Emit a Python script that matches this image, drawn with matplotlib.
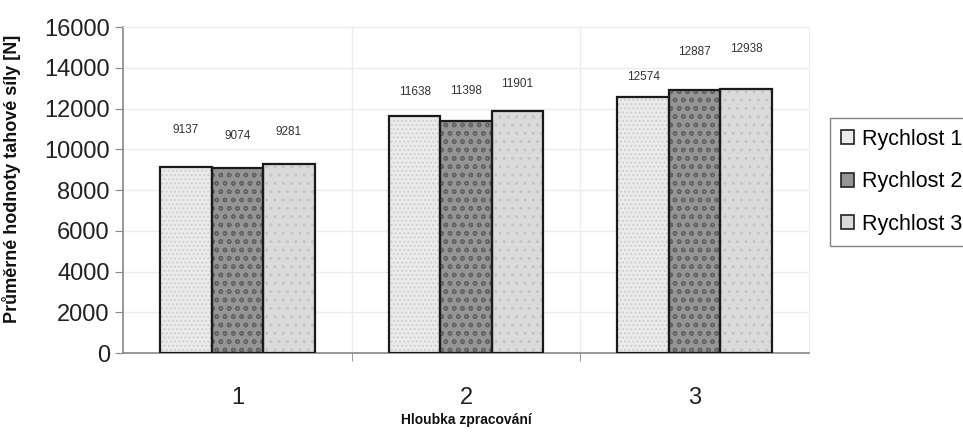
import matplotlib
matplotlib.use("Agg")
import matplotlib.pyplot as plt
from matplotlib.patches import Patch
import numpy as np

plt.rcParams['font.family'] = ['Liberation Sans', 'DejaVu Sans']

# Data
depths = ["1", "2", "3"]
series_names = ["Rychlost 1", "Rychlost 2", "Rychlost 3"]
rychlost_1 = [9137, 11638, 12574]
rychlost_2 = [9074, 11398, 12887]
rychlost_3 = [9281, 11901, 12938]
y_ticks = [0, 2000, 4000, 6000, 8000, 10000, 12000, 14000, 16000]

series = [rychlost_1, rychlost_2, rychlost_3]

# Styling per series: face colour, hatch, hatch colour
faces = ["#ebebeb", "#959595", "#dadada"]
hatches = ["....", "oo", ".."]
hatch_cols = ["#cfcfcf", "#646464", "#c4c4c4"]
# vertical offsets (points) of each value label centre above its bar
label_offsets = [
    [26.5, 23, 23],
    [17.5, 21.5, 19],
    [14.5, 27.5, 29],
]

fig = plt.figure(figsize=(9.63, 4.36), dpi=100)
ax = fig.add_axes([123 / 963, 1 - 353 / 436, (809 - 123) / 963, (353 - 27) / 436])

x = np.arange(len(depths))
width = 0.225
shifts = [-width, 0, width]

for i, vals in enumerate(series):
    xs = x + shifts[i]
    ax.bar(xs, vals, width, color=faces[i], hatch=hatches[i],
           edgecolor=hatch_cols[i], linewidth=0, zorder=2)
    ax.bar(xs, vals, width, facecolor="none", edgecolor="#1a1a1a",
           linewidth=1.6, zorder=3)
    for j, v in enumerate(vals):
        ax.annotate(str(v), (xs[j], v), xytext=(0, label_offsets[j][i]),
                    textcoords="offset points", ha="center", va="center",
                    fontsize=8.5, color="#333333")

ax.set_xlim(-0.5, 2.5)
ax.set_ylim(0, 16000)
ax.set_yticks(y_ticks)
ax.set_yticklabels([str(t) for t in y_ticks], fontsize=17, color="#222222")
ax.set_xticks(x)
ax.set_xticklabels(depths, fontsize=17, color="#222222")
ax.tick_params(axis="x", length=0, pad=24.5)
ax.set_xticks([0.5, 1.5], minor=True)
ax.tick_params(axis="x", which="minor", length=6, color="#888888", direction="out")
ax.tick_params(axis="y", length=5.5, color="#888888", direction="out", pad=4)

ax.grid(axis="y", color="#ececec", linewidth=1, zorder=0)
ax.grid(axis="x", which="minor", color="#ececec", linewidth=1, zorder=0)
ax.set_axisbelow(True)

for s in ["top", "right"]:
    ax.spines[s].set_color("#ececec")
for s in ["left", "bottom"]:
    ax.spines[s].set_color("#888888")
    ax.spines[s].set_linewidth(1.2)

ax.set_ylabel("Průměrné hodnoty tahové síly [N]", fontsize=13,
              fontweight="bold", color="#111111")
ax.yaxis.set_label_coords(-0.148, 0.535)
ax.set_xlabel("Hloubka zpracování", fontsize=10, fontweight="bold",
              color="#111111", labelpad=3)

handles = [Patch(facecolor=faces[i], edgecolor="#222222", linewidth=1.2)
           for i in range(3)]
leg = fig.legend(handles, series_names, loc="upper left",
                 bbox_to_anchor=(830 / 963, 1 - 118 / 436),
                 fontsize=15.5, frameon=True, fancybox=False,
                 edgecolor="#666666", handlelength=0.6, handleheight=0.6,
                 handletextpad=0.4, labelspacing=1.0, borderpad=0.5,
                 borderaxespad=0)
leg.get_frame().set_linewidth(1.0)

fig.savefig("out.png", dpi=100)
